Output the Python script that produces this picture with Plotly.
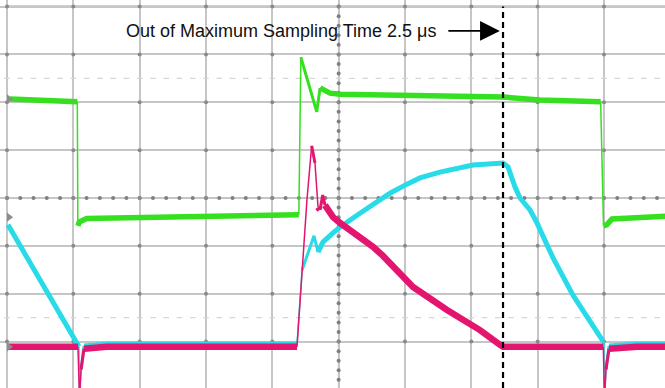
import plotly.graph_objects as go

# ---------------- data (time and voltage in screen divisions) ----------------
green_t = [0.045, 0.50, 1.040, 1.060, 1.068, 1.09, 1.20, 1.60, 2.50, 3.50, 4.36,
           4.40, 4.43, 4.67, 4.72, 4.87, 5.02, 6.53, 7.48, 8.03, 8.95, 8.993,
           9.04, 9.12, 9.50, 9.93]
green_v = [2.07, 2.05, 2.01, 2.01, -0.58, -0.50, -0.43, -0.42, -0.40, -0.37, -0.35,
           -0.35, 2.94, 1.80, 2.30, 2.19, 2.17, 2.13, 2.11, 2.05, 2.01, -0.58,
           -0.56, -0.44, -0.40, -0.38]

cyan_t = [0.015, 1.055, 1.085, 1.093, 1.116, 1.161, 1.50, 2.50, 3.50, 4.372,
          4.448, 4.628, 4.689, 4.764, 4.915, 5.020, 5.277, 5.518, 5.774, 6.030,
          6.226, 6.528, 7.025, 7.478, 7.553, 7.659, 7.734, 7.885, 7.990, 8.141,
          8.232, 8.533, 8.985, 9.000, 9.008, 9.030, 9.076, 9.50, 9.93]
cyan_v = [-0.56, -3.01, -3.11, -4.22, -3.59, -3.09, -3.05, -3.05, -3.05, -3.05,
          -1.51, -0.79, -1.13, -0.92, -0.73, -0.61, -0.36, -0.13, 0.10, 0.29,
          0.42, 0.54, 0.69, 0.73, 0.65, 0.23, 0.00, -0.25, -0.52, -0.98,
          -1.25, -2.03, -2.99, -3.09, -4.22, -3.59, -3.09, -3.05, -3.05]

magenta_t = [0.015, 0.50, 1.070, 1.093, 1.116, 1.161, 1.50, 2.50, 3.50, 4.372,
             4.462, 4.522, 4.593, 4.643, 4.689, 4.719, 4.760, 4.794, 4.915, 5.020,
             5.277, 5.518, 5.669, 6.121, 6.634, 7.131, 7.433, 7.478, 8.00, 8.99,
             9.008, 9.030, 9.076, 9.50, 9.93]
magenta_v = [-3.11, -3.11, -3.11, -4.22, -3.59, -3.15, -3.11, -3.11, -3.11, -3.11,
             -1.36, -0.04, 1.09, 0.73, -0.19, -0.25, 0.06, -0.15, -0.40, -0.52,
             -0.77, -1.02, -1.21, -1.86, -2.34, -2.76, -3.07, -3.11, -3.11, -3.11,
             -4.22, -3.59, -3.15, -3.11, -3.11]

channel_marker_levels = [2.07, -0.40, -3.11]

grid_x = list(range(0, 10))
grid_y = list(range(-3, 5))
center_x = 5
center_y = 0
faint_levels = [2.5, -2.5]

cursor_t = 7.478
label_text = "Out of Maximum Sampling Time 2.5 \u03bcs"
label_t, label_v = 1.764, 3.49
arrow_tip_t = 7.43

X_RANGE = [-0.1055, 9.92]
Y_RANGE = [-3.97, 4.137]

GREEN = "#35e01f"
CYAN = "#27dbe8"
MAGENTA = "#e3156f"

fig = go.Figure()

# ---------------- graticule decorations ----------------
sub_x = [i * 0.2 for i in range(0, 50)]
sub_y = [-4 + i * 0.2 for i in range(0, 41)]
for lv in faint_levels:
    fig.add_trace(go.Scatter(x=sub_x, y=[lv] * len(sub_x), mode="markers",
                             marker=dict(symbol="line-ew", size=4, color="#d4d4d4",
                                         line=dict(width=1.2, color="#d4d4d4")),
                             hoverinfo="skip", showlegend=False))
fig.add_trace(go.Scatter(x=sub_x, y=[center_y] * len(sub_x), mode="markers",
                         marker=dict(size=4, color="#7f7f7f"),
                         hoverinfo="skip", showlegend=False))
fig.add_trace(go.Scatter(x=[center_x] * len(sub_y), y=sub_y, mode="markers",
                         marker=dict(size=4, color="#7f7f7f"),
                         hoverinfo="skip", showlegend=False))
ix = [gx for gx in grid_x for gy in grid_y]
iy = [gy for gx in grid_x for gy in grid_y]
fig.add_trace(go.Scatter(x=ix, y=iy, mode="markers",
                         marker=dict(size=4, color="#8a8a8a"),
                         hoverinfo="skip", showlegend=False))


# ---------------- channels ----------------
def add_channel(t, v, color, width):
    def w_for(i):
        dt = t[i + 1] - t[i]
        dv = abs(v[i + 1] - v[i])
        s = dv / dt if dt > 0 else 1e9
        if s > 12:
            return 1.5
        if s > 4:
            return 3
        return width

    runs = []
    cur = w_for(0)
    xs, ys = [t[0]], [v[0]]
    for i in range(len(t) - 1):
        w = w_for(i)
        if w != cur:
            runs.append((xs, ys, cur))
            xs, ys, cur = [t[i]], [v[i]], w
        xs.append(t[i + 1])
        ys.append(v[i + 1])
    runs.append((xs, ys, cur))
    for xs, ys, w in runs:
        fig.add_trace(go.Scatter(x=xs, y=ys, mode="lines",
                                 line=dict(color=color, width=w),
                                 hoverinfo="skip", showlegend=False))


add_channel(green_t, green_v, GREEN, 5.5)
add_channel(cyan_t, cyan_v, CYAN, 5)
add_channel(magenta_t, magenta_v, MAGENTA, 6.5)

fig.add_trace(go.Scatter(x=[0.03] * 3, y=channel_marker_levels, mode="markers",
                         marker=dict(symbol="triangle-right", size=8, color="#8c8c8c"),
                         hoverinfo="skip", showlegend=False, cliponaxis=False))

# ---------------- layout ----------------
shapes = [
    dict(type="line", xref="x", yref="y", x0=X_RANGE[0], x1=X_RANGE[1], y0=center_y, y1=center_y,
         line=dict(color="#a6a6a6", width=1.5), layer="below"),
    dict(type="line", xref="x", yref="y", x0=center_x, x1=center_x, y0=Y_RANGE[0], y1=4,
         line=dict(color="#a6a6a6", width=1.5), layer="below"),
    dict(type="line", xref="x", yref="y", x0=0, x1=X_RANGE[1], y0=4, y1=4,
         line=dict(color="#a4a4a4", width=2), layer="below"),
    dict(type="line", xref="x", yref="y", x0=0, x1=0, y0=Y_RANGE[0], y1=4,
         line=dict(color="#9c9c9c", width=2), layer="below"),
    dict(type="line", xref="x", yref="y", x0=cursor_t, x1=cursor_t, y0=Y_RANGE[0], y1=4,
         line=dict(color="#000000", width=2.2, dash="6px,4px"), layer="above"),
]

fig.update_layout(
    width=665, height=388, autosize=False,
    margin=dict(l=0, r=0, t=0, b=0),
    paper_bgcolor="white", plot_bgcolor="white",
    showlegend=False,
    shapes=shapes,
    xaxis=dict(range=X_RANGE, tick0=0, dtick=1, showgrid=True, gridcolor="#c6c6c6",
               gridwidth=1.5, zeroline=False, showticklabels=False, ticks="",
               showline=False, fixedrange=True),
    yaxis=dict(range=Y_RANGE, tick0=0, dtick=1, showgrid=True, gridcolor="#c6c6c6",
               gridwidth=1.5, zeroline=False, showticklabels=False, ticks="",
               showline=False, fixedrange=True),
    annotations=[
        dict(x=label_t, y=label_v, xref="x", yref="y", text=label_text, showarrow=False,
             xanchor="left", yanchor="middle",
             font=dict(family="Liberation Sans, Arial, sans-serif", size=18, color="#111111")),
        dict(x=arrow_tip_t, y=label_v, xref="x", yref="y", text="", showarrow=True,
             ax=-53, ay=0, arrowhead=2, arrowsize=2.2, arrowwidth=1.8, arrowcolor="#000000"),
    ],
)

fig.write_html("out.html", config={"displayModeBar": False},
               post_script="document.body.style.margin='0';document.body.style.overflow='hidden';")
